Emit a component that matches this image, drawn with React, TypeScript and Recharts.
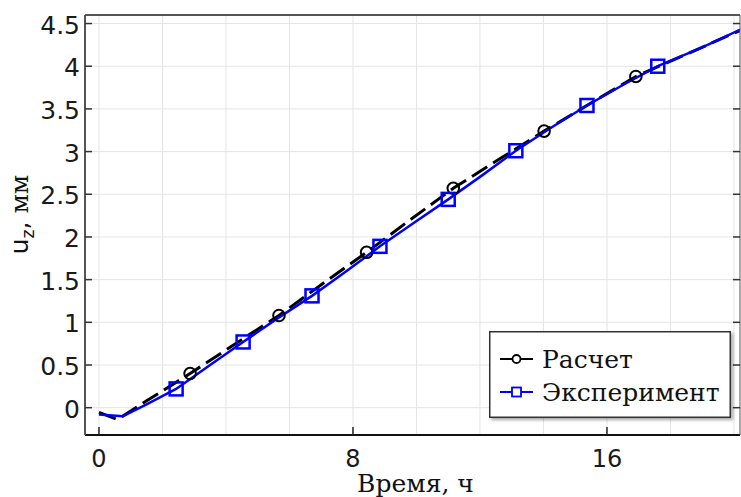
import React from 'react';
import { LineChart, Line, XAxis, YAxis, CartesianGrid, Legend } from 'recharts';

// Расчет (calculation) — black dashed with circle markers
const calcT = [0, 0.58, 1.5, 2.87, 4.3, 5.67, 7.0, 8.43, 9.8, 11.16, 12.6, 14.02, 15.5, 16.91, 18.5, 20.2];
const calcU = [-0.055, -0.14, 0.08, 0.4, 0.75, 1.08, 1.44, 1.82, 2.2, 2.57, 2.91, 3.24, 3.57, 3.88, 4.14, 4.42];
const calcMarkerIdx = [3, 5, 7, 9, 11, 13];

// Эксперимент (experiment) — blue solid with square markers
const expT = [0, 0.75, 1.5, 2.43, 3.5, 4.54, 5.6, 6.71, 7.8, 8.85, 9.9, 11.0, 12.1, 13.13, 14.2, 15.37, 16.5, 17.6, 19.0, 20.2];
const expU = [-0.08, -0.1, 0.04, 0.22, 0.5, 0.77, 1.04, 1.31, 1.6, 1.89, 2.16, 2.44, 2.73, 3.01, 3.27, 3.54, 3.78, 4.0, 4.22, 4.43];
const expMarkerIdx = [3, 5, 7, 9, 11, 13, 15, 17];

const xTicks = [0, 8, 16];
const xGrid = [0, 2, 4, 6, 8, 10, 12, 14, 16, 18, 20];
const yTicks = [0, 0.5, 1, 1.5, 2, 2.5, 3, 3.5, 4, 4.5];
const xDomain = [-0.44, 20.19];
const yDomain = [-0.32, 4.6];

const seriesNames = ['Расчет', 'Эксперимент'];
const xLabel = 'Время, ч';

const calcData = calcT.map((t, i) => ({ t, u: calcU[i], m: calcMarkerIdx.includes(i) }));
const expData = expT.map((t, i) => ({ t, u: expU[i], m: expMarkerIdx.includes(i) }));

const SANS = 'DejaVu Sans';
const SERIF = 'DejaVu Serif';

const CircleDot = (p: any) => {
  if (!p.payload || !p.payload.m) return <g key={`c${p.index}`} />;
  return <circle key={`c${p.index}`} cx={p.cx} cy={p.cy} r={5.8} fill="none" stroke="#000" strokeWidth={2} />;
};
const SquareDot = (p: any) => {
  if (!p.payload || !p.payload.m) return <g key={`s${p.index}`} />;
  return <rect key={`s${p.index}`} x={p.cx - 6.5} y={p.cy - 6.5} width={13} height={13} fill="none" stroke="#0000ff" strokeWidth={2.5} />;
};

const XTickBottom = (p: any) => (
  <g>
    <line x1={p.x} x2={p.x} y1={p.y} y2={p.y - 8} stroke="#222" strokeWidth={1.5} />
    <text x={p.x} y={p.y + 32} textAnchor="middle" fontFamily={SANS} fontSize={24} fill="#1a1a1a">{p.payload.value}</text>
  </g>
);
const XTickTop = (p: any) => (
  <g><line x1={p.x} x2={p.x} y1={p.y} y2={p.y + 8} stroke="#333" strokeWidth={1.5} /></g>
);
const YTickLeft = (p: any) => (
  <g>
    <line x1={p.x} x2={p.x + 7} y1={p.y} y2={p.y} stroke="#333" strokeWidth={1.5} />
    <text x={p.x - 5} y={p.y + 10} textAnchor="end" fontFamily={SANS} fontSize={25} fill="#1a1a1a">{String(p.payload.value)}</text>
  </g>
);
const YTickRight = (p: any) => (
  <g><line x1={p.x} x2={p.x - 7} y1={p.y} y2={p.y} stroke="#333" strokeWidth={1.5} /></g>
);

const LegendBox = () => (
  <div style={{ width: 242, height: 87, boxShadow: '2px 2px 3px rgba(0,0,0,0.35)', background: '#fff' }}>
    <svg width={242} height={87} style={{ display: 'block' }}>
      <rect x={0.75} y={0.75} width={240.5} height={85.5} fill="#fff" stroke="#333" strokeWidth={1.5} />
      <line x1={11} x2={44} y1={28} y2={28} stroke="#000" strokeWidth={2} />
      <circle cx={27.5} cy={28} r={4} fill="#fff" stroke="#000" strokeWidth={1.8} />
      <text x={53} y={37} fontFamily={SERIF} fontSize={25} fill="#111">{seriesNames[0]}</text>
      <line x1={11} x2={44} y1={61} y2={61} stroke="#0000ff" strokeWidth={2} />
      <rect x={23} y={56.5} width={9} height={9} fill="#fff" stroke="#0000ff" strokeWidth={1.8} />
      <text x={53} y={70} fontFamily={SERIF} fontSize={25} fill="#111">{seriesNames[1]}</text>
    </svg>
  </div>
);

const XLabel = (lp: any) => {
  const vb = lp.viewBox || {};
  const cx = (vb.x ?? 85) + (vb.width ?? 655) / 2 + 3;
  const y = (vb.y ?? 435) + 57;
  return <text x={cx} y={y} textAnchor="middle" fontFamily={SERIF} fontSize={25} fill="#111">{xLabel}</text>;
};

const YLabel = () => (
  <text transform="translate(28,214.5) rotate(-90)" textAnchor="middle" fontSize={25} fill="#111">
    <tspan fontFamily={SANS}>u</tspan>
    <tspan fontFamily={SANS} fontSize={17} dy={6}>z</tspan>
    <tspan fontFamily={SANS} dy={-6}>, </tspan>
    <tspan fontFamily={SERIF}>мм</tspan>
  </text>
);

export default function App() {
  return (
    <div style={{ position: 'absolute', left: 0, top: 0, width: 741, height: 497, background: '#fff' }}>
      <LineChart width={741} height={497} margin={{ top: 14, right: 0, bottom: 61, left: 84 }}>
        <CartesianGrid stroke="#e4e4e4" strokeWidth={1} verticalValues={xGrid} horizontalValues={yTicks} />
        <XAxis
          type="number" dataKey="t" domain={xDomain} ticks={xTicks} allowDataOverflow
          height={1} tickSize={0} tickMargin={0} tickLine={false} tick={<XTickBottom />}
          axisLine={{ stroke: '#111', strokeWidth: 2 }}
          label={<XLabel />}
        />
        <XAxis
          xAxisId="top" orientation="top" type="number" domain={xDomain} ticks={xTicks} allowDataOverflow
          height={1} tickSize={0} tickMargin={0} tickLine={false} tick={<XTickTop />}
          axisLine={{ stroke: '#555', strokeWidth: 2 }}
        />
        <YAxis
          type="number" domain={yDomain} ticks={yTicks} allowDataOverflow
          width={1} tickSize={0} tickMargin={0} tickLine={false} tick={<YTickLeft />}
          axisLine={{ stroke: '#555', strokeWidth: 2 }}
          label={<YLabel />}
        />
        <YAxis
          yAxisId="right" orientation="right" type="number" domain={yDomain} ticks={yTicks} allowDataOverflow
          width={1} tickSize={0} tickMargin={0} tickLine={false} tick={<YTickRight />}
          axisLine={{ stroke: '#555', strokeWidth: 1 }}
        />
        <Line
          data={calcData} dataKey="u" name={seriesNames[0]} type="linear"
          stroke="#000" strokeWidth={3} strokeDasharray="18 7"
          dot={CircleDot} activeDot={false} isAnimationActive={false}
        />
        <Line
          data={expData} dataKey="u" name={seriesNames[1]} type="linear"
          stroke="#0000ff" strokeWidth={2.5}
          dot={SquareDot} activeDot={false} isAnimationActive={false}
        />
        <Legend
          layout="vertical" align="center" verticalAlign="middle"
          wrapperStyle={{ left: 489, top: 331, width: 242, height: 87, right: 'auto', bottom: 'auto' }}
          content={() => <LegendBox />}
        />
      </LineChart>
    </div>
  );
}
